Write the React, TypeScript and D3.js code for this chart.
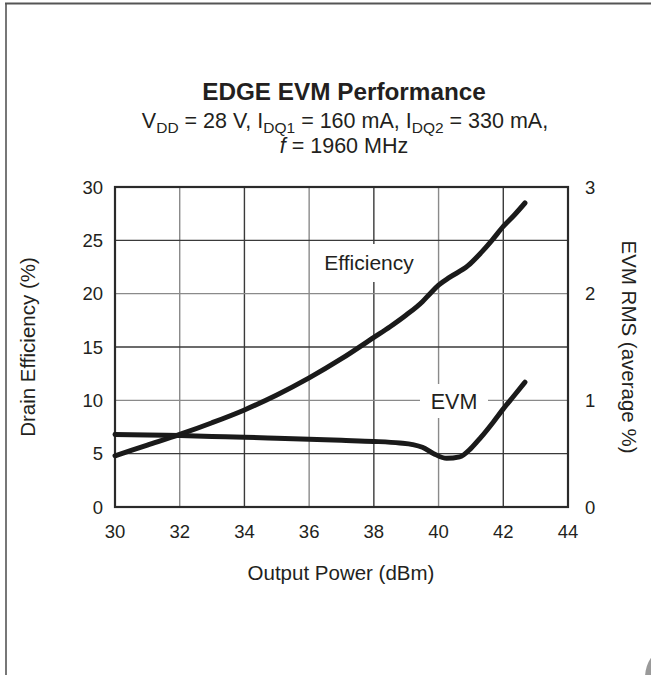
import React from "react";
import * as d3 from "d3";

const powerEff = [30, 31, 32, 33, 34, 35, 36, 37, 38, 38.5, 39, 39.5, 39.75, 40, 40.35, 40.9, 41.3, 41.65, 42, 42.35, 42.67];
const efficiency = [4.8, 5.8, 6.8, 7.9, 9.1, 10.5, 12.1, 13.9, 15.9, 16.9, 18.0, 19.25, 20.05, 20.8, 21.55, 22.6, 23.8, 25.0, 26.3, 27.4, 28.5];

const powerEvm = [30, 31, 32, 33, 34, 35, 36, 37, 38, 38.8, 39.2, 39.5, 39.85, 40.25, 40.65, 41.0, 41.3, 41.7, 42.0, 42.35, 42.67];
const evm = [0.68, 0.675, 0.67, 0.662, 0.655, 0.645, 0.635, 0.625, 0.615, 0.6, 0.585, 0.56, 0.5, 0.456, 0.47, 0.55, 0.65, 0.8, 0.92, 1.05, 1.17];

const xTicks = [30, 32, 34, 36, 38, 40, 42, 44];
const yLeftTicks = [0, 5, 10, 15, 20, 25, 30];
const yRightTicks = [0, 1, 2, 3];

const FONT = "'Liberation Sans', Arial, Helvetica, sans-serif";
const INK = "#231f20";

export default function App() {
  const W = 651, H = 675;
  const left = 115, right = 568, top = 187, bottom = 507;
  const x = d3.scaleLinear().domain([30, 44]).range([left, right]);
  const yL = d3.scaleLinear().domain([0, 30]).range([bottom, top]);
  const yR = d3.scaleLinear().domain([0, 3]).range([bottom, top]);

  const effLine = d3.line<number>()
    .x((_, i) => x(powerEff[i]))
    .y((d) => yL(d))
    .curve(d3.curveMonotoneX)(efficiency) as string;
  const evmLine = d3.line<number>()
    .x((_, i) => x(powerEvm[i]))
    .y((d) => yR(d))
    .curve(d3.curveMonotoneX)(evm) as string;

  const gridColor = (i: number) => (i % 2 === 1 ? "#8a8a8a" : "#3a3a3a");

  return (
    <svg width={W} height={H} style={{ position: "absolute", left: 0, top: 0, background: "#fff" }} fontFamily={FONT}>
      <rect x={0} y={0} width={W} height={H} fill="#fff" />
      {/* page border */}
      <line x1={5} x2={W} y1={3.5} y2={3.5} stroke="#555" strokeWidth={2} />
      <line x1={6} x2={6} y1={3} y2={H} stroke="#555" strokeWidth={1.6} />
      <ellipse cx={668} cy={678} rx={23} ry={30} fill="#9a9a9a" />

      {/* title */}
      <text x={344} y={100} textAnchor="middle" fontSize={24.3} fontWeight="bold" fill={INK}>EDGE EVM Performance</text>
      <text x={345} y={128} textAnchor="middle" fontSize={21.5} fill={INK}>
        <tspan>V</tspan><tspan fontSize={15.5} dy={5}>DD</tspan>
        <tspan dy={-5}> = 28 V, I</tspan><tspan fontSize={15.5} dy={5}>DQ1</tspan>
        <tspan dy={-5}> = 160 mA, I</tspan><tspan fontSize={15.5} dy={5}>DQ2</tspan>
        <tspan dy={-5}> = 330 mA,</tspan>
      </text>
      <text x={344} y={153} textAnchor="middle" fontSize={21.5} fill={INK}>
        <tspan fontStyle="italic">f</tspan><tspan> = 1960 MHz</tspan>
      </text>

      {/* grid */}
      {xTicks.slice(1, -1).map((t, i) => (
        <line key={"gx" + t} x1={x(t)} x2={x(t)} y1={top} y2={bottom} stroke={gridColor(i + 1)} strokeWidth={1.4} />
      ))}
      {yLeftTicks.slice(1, -1).map((t, i) => (
        <line key={"gy" + t} x1={left} x2={right} y1={yL(t)} y2={yL(t)} stroke={gridColor(i)} strokeWidth={1.4} />
      ))}

      {/* label knockouts */}
      <rect x={316} y={244} width={104} height={38} fill="#fff" />
      <rect x={420} y={384} width={68} height={34} fill="#fff" />
      <text x={369} y={270} textAnchor="middle" fontSize={21} fill={INK}>Efficiency</text>
      <text x={454} y={409} textAnchor="middle" fontSize={21.5} fill={INK}>EVM</text>

      {/* frame */}
      <rect x={left} y={top} width={right - left} height={bottom - top} fill="none" stroke="#2a2a2a" strokeWidth={2.2} />

      {/* curves */}
      <path d={effLine} fill="none" stroke="#1a1a1a" strokeWidth={5} strokeLinecap="round" />
      <path d={evmLine} fill="none" stroke="#1a1a1a" strokeWidth={5} strokeLinecap="round" />

      {/* ticks labels */}
      {xTicks.map((t) => (
        <text key={"xt" + t} x={x(t)} y={538} textAnchor="middle" fontSize={18.5} fill={INK}>{t}</text>
      ))}
      {yLeftTicks.map((t) => (
        <text key={"yl" + t} x={103} y={yL(t) + 6.5} textAnchor="end" fontSize={18.5} fill={INK}>{t}</text>
      ))}
      {yRightTicks.map((t) => (
        <text key={"yr" + t} x={585} y={yR(t) + 6.5} textAnchor="start" fontSize={18.5} fill={INK}>{t}</text>
      ))}

      {/* axis titles */}
      <text x={341} y={580} textAnchor="middle" fontSize={20.5} fill={INK}>Output Power (dBm)</text>
      <text transform={`translate(35, ${(top + bottom) / 2}) rotate(-90)`} textAnchor="middle" fontSize={20.5} fill={INK}>Drain Efficiency (%)</text>
      <text transform={`translate(622, ${(top + bottom) / 2}) rotate(90)`} textAnchor="middle" fontSize={20.5} fill={INK}>EVM RMS (average %)</text>
    </svg>
  );
}
